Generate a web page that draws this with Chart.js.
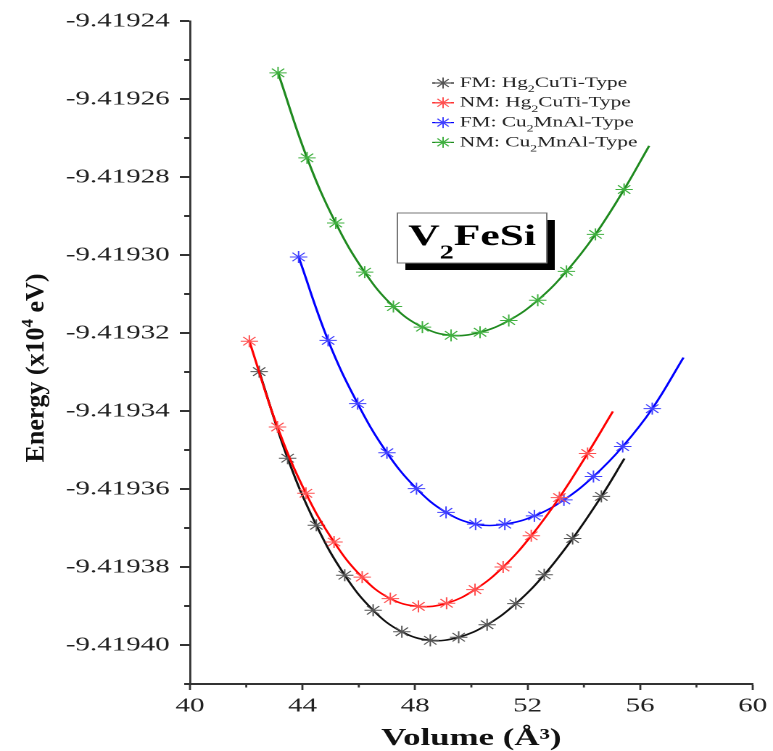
<!DOCTYPE html>
<html>
<head>
<meta charset="utf-8">
<script src="https://cdn.jsdelivr.net/npm/chart.js@4"></script>
<style>
  html, body { margin: 0; padding: 0; background: #fff; }
  /* the source figure is stretched sideways: draw narrow, then widen the canvas */
  #chart { display: block; width: 773px !important; height: 751px !important; }
</style>
</head>
<body>
<canvas id="chart" width="533" height="751"></canvas>
<script>
// =========================
// DATA
// =========================

// FM: Hg2CuTi-Type (black)
const fmHgVol = [42.46, 43.47, 44.49, 45.50, 46.51, 47.53, 48.54, 49.55, 50.56, 51.58, 52.59, 53.60, 54.62];
const fmHgE = [-9.4193299, -9.4193521, -9.4193693, -9.4193821, -9.4193911, -9.4193966, -9.4193988,
               -9.4193980, -9.4193948, -9.4193894, -9.4193820, -9.4193727, -9.4193619];
const fmHgFitEnd = [55.44, -9.4193522];

// NM: Hg2CuTi-Type (red)
const nmHgVol = [42.11, 43.11, 44.12, 45.12, 46.12, 47.12, 48.12, 49.12, 50.13, 51.13, 52.13, 53.13, 54.13];
const nmHgE = [-9.4193221, -9.4193441, -9.4193611, -9.4193736, -9.4193826, -9.4193881, -9.4193901,
               -9.4193893, -9.4193858, -9.4193800, -9.4193720, -9.4193622, -9.4193509];
const nmHgFitEnd = [55.03, -9.4193401];

// FM: Cu2MnAl-Type (blue)
const fmCuVol = [43.86, 44.91, 45.96, 47.00, 48.05, 49.10, 50.15, 51.19, 52.24, 53.29, 54.34, 55.38, 56.43];
const fmCuE = [-9.4193005, -9.4193219, -9.4193381, -9.4193507, -9.4193599, -9.4193660, -9.4193690,
               -9.4193690, -9.4193669, -9.4193628, -9.4193568, -9.4193491, -9.4193394];
const fmCuFitEnd = [57.54, -9.4193263];

// NM: Cu2MnAl-Type (green)
const nmCuVol = [43.13, 44.16, 45.18, 46.21, 47.23, 48.26, 49.28, 50.31, 51.33, 52.36, 53.38, 54.41, 55.43];
const nmCuE = [-9.4192533, -9.4192751, -9.4192918, -9.4193044, -9.4193132, -9.4193185, -9.4193206,
               -9.4193198, -9.4193168, -9.4193116, -9.4193042, -9.4192947, -9.4192832];
const nmCuFitEnd = [56.32, -9.4192720];

// tick labels
const xTickLabels = [40, 44, 48, 52, 56, 60];
const yTickLabels = ["-9.41924", "-9.41926", "-9.41928", "-9.41930", "-9.41932",
                     "-9.41934", "-9.41936", "-9.41938", "-9.41940"];


// =========================
// HELPERS
// =========================

const STRETCH = 773 / 533;
const SERIF = '"Liberation Serif", "Times New Roman", serif';
const AXIS = "#333";

function makeSeries(label, vol, en, fitEnd, lineColor, markColor) {
  const pts = vol.map((v, i) => ({ x: v, y: en[i] }));
  pts.push({ x: fitEnd[0], y: fitEnd[1] });
  return {
    label,
    data: pts,
    showLine: true,
    tension: 0.4,
    borderColor: lineColor,
    borderWidth: 1.6,
    pointStyle: "star",
    pointRadius: ctx => (ctx.dataIndex < vol.length ? 6 : 0),
    pointHoverRadius: 0,
    pointBorderColor: markColor,
    pointBorderWidth: 1
  };
}

// draws text pieces with sub/superscripts, returns total width
function drawRich(ctx, parts, x, y, size, weight, dryRun) {
  let cx = x;
  parts.forEach(([t, kind]) => {
    const s = kind ? size * 0.65 : size;
    const dy = kind === "sub" ? size * 0.45 : kind === "sup" ? -size * 0.42 : 0;
    ctx.font = `${weight} ${s}px ${SERIF}`;
    if (!dryRun) ctx.fillText(t, cx, y + dy);
    cx += ctx.measureText(t).width;
  });
  return cx - x;
}

function drawStar(ctx, x, y, r) {
  ctx.beginPath();
  for (let k = 0; k < 4; k++) {
    const a = k * Math.PI / 4;
    ctx.moveTo(x - r * Math.cos(a), y - r * Math.sin(a));
    ctx.lineTo(x + r * Math.cos(a), y + r * Math.sin(a));
  }
  ctx.stroke();
}

// only labelled ticks get the long mark from chart.js
const majorOnly = ctx => (ctx.tick && ctx.tick.label ? AXIS : "rgba(0,0,0,0)");

const legendRows = [
  { parts: [["FM: Hg", ""], ["2", "sub"], ["CuTi-Type", ""]], line: "#111", mark: "#555" },
  { parts: [["NM: Hg", ""], ["2", "sub"], ["CuTi-Type", ""]], line: "#ff0000", mark: "#ff5050" },
  { parts: [["FM: Cu", ""], ["2", "sub"], ["MnAl-Type", ""]], line: "#0000ff", mark: "#4040ff" },
  { parts: [["NM: Cu", ""], ["2", "sub"], ["MnAl-Type", ""]], line: "#1f8a1f", mark: "#40b040" }
];


// =========================
// ANNOTATION PLUGIN
// =========================

const annotationsPlugin = {
  id: "figureExtras",
  afterDraw(chart) {
    const ctx = chart.ctx;
    const xs = chart.scales.x, ys = chart.scales.y;

    // short minor ticks
    ctx.save();
    ctx.strokeStyle = AXIS;
    ctx.beginPath();
    ctx.lineWidth = 2;
    ys.ticks.forEach((t, i) => {
      if (t.label) return;
      const y = ys.getPixelForTick(i);
      ctx.moveTo(ys.right - 4, y);
      ctx.lineTo(ys.right, y);
    });
    ctx.stroke();
    ctx.beginPath();
    ctx.lineWidth = 1.4;
    xs.ticks.forEach((t, i) => {
      if (t.label) return;
      const x = xs.getPixelForTick(i);
      ctx.moveTo(x, xs.top);
      ctx.lineTo(x, xs.top + 3.5);
    });
    ctx.stroke();
    ctx.restore();

    // y axis title (not stretched in the source)
    ctx.save();
    ctx.fillStyle = "#111";
    ctx.textBaseline = "alphabetic";
    ctx.translate(30, 368);
    ctx.scale(1 / STRETCH, 1);
    ctx.rotate(-Math.PI / 2);
    const yParts = [["Energy (x10", ""], ["4", "sup"], [" eV)", ""]];
    const w = drawRich(ctx, yParts, 0, 0, 26, "bold", true);
    drawRich(ctx, yParts, -w / 2, 0, 26, "bold");
    ctx.restore();

    // legend
    ctx.save();
    ctx.textBaseline = "middle";
    legendRows.forEach((row, i) => {
      const y = 83 + i * 19.8;
      ctx.strokeStyle = row.line;
      ctx.lineWidth = 1.2;
      ctx.beginPath();
      ctx.moveTo(298, y);
      ctx.lineTo(313, y);
      ctx.stroke();
      ctx.strokeStyle = row.mark;
      ctx.lineWidth = 1;
      drawStar(ctx, 305.5, y, 5.5);
      ctx.fillStyle = "#222";
      drawRich(ctx, row.parts, 317, y, 14.7, "normal");
    });
    ctx.restore();

    // V2FeSi box
    ctx.save();
    const bx = 274, by = 213, bw = 103, bh = 50;
    ctx.fillStyle = "#000";
    ctx.fillRect(bx + 5.5, by + 7, bw, bh);
    ctx.fillStyle = "#fff";
    ctx.fillRect(bx, by, bw, bh);
    ctx.strokeStyle = "#777";
    ctx.lineWidth = 1;
    ctx.strokeRect(bx, by, bw, bh);
    ctx.fillStyle = "#000";
    ctx.textBaseline = "alphabetic";
    const tParts = [["V", ""], ["2", "sub"], ["FeSi", ""]];
    const tw = drawRich(ctx, tParts, 0, 0, 30, "bold", true);
    drawRich(ctx, tParts, bx + bw / 2 - tw / 2, 245, 30, "bold");
    ctx.restore();
  }
};


// =========================
// CHART
// =========================

new Chart(document.getElementById("chart"), {
  type: "scatter",
  data: {
    datasets: [
      makeSeries("NM: Hg2CuTi-Type", nmHgVol, nmHgE, nmHgFitEnd, "#ff0000", "#ff5050"),
      makeSeries("FM: Hg2CuTi-Type", fmHgVol, fmHgE, fmHgFitEnd, "#111", "#555"),
      makeSeries("FM: Cu2MnAl-Type", fmCuVol, fmCuE, fmCuFitEnd, "#0000ff", "#4040ff"),
      makeSeries("NM: Cu2MnAl-Type", nmCuVol, nmCuE, nmCuFitEnd, "#1f8a1f", "#40b040")
    ]
  },
  options: {
    responsive: false,
    devicePixelRatio: 2,
    animation: false,
    layout: { padding: { left: 0, right: 9, top: 21, bottom: 0 } },
    plugins: {
      legend: { display: false },
      tooltip: { enabled: false }
    },
    scales: {
      x: {
        type: "linear",
        min: 40,
        max: 60,
        afterFit: s => { s.height = 67; },
        border: { display: true, color: AXIS, width: 2 },
        grid: { drawOnChartArea: false, drawTicks: true, tickLength: 6, tickColor: majorOnly, tickWidth: 1.4 },
        ticks: {
          stepSize: 2,
          autoSkip: false,
          maxRotation: 0,
          padding: 4,
          color: "#222",
          font: { family: SERIF, size: 20 },
          callback: v => (xTickLabels.includes(v) ? String(v) : "")
        },
        title: {
          display: true,
          text: "Volume (Å³)",
          color: "#111",
          padding: 0,
          font: { family: SERIF, size: 24, weight: "bold", lineHeight: 1 }
        }
      },
      y: {
        type: "linear",
        min: -9.41941,
        max: -9.41924,
        afterFit: s => { s.width = 131; },
        border: { display: true, color: AXIS, width: 1.4 },
        grid: { drawOnChartArea: false, drawTicks: true, tickLength: 7, tickColor: majorOnly, tickWidth: 2 },
        ticks: {
          stepSize: 0.00001,
          maxTicksLimit: 100,
          autoSkip: false,
          padding: 7,
          color: "#222",
          font: { family: SERIF, size: 20 },
          callback: v => {
            const s = Number(v).toFixed(5);
            return yTickLabels.includes(s) ? s : "";
          }
        }
      }
    }
  },
  plugins: [annotationsPlugin]
});
</script>
</body>
</html>
